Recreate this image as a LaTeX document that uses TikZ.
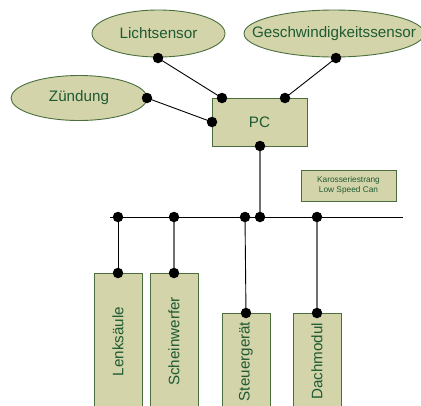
\documentclass[tikz,border=0pt]{standalone}
\usepackage{fontspec}
\setmainfont{Liberation Sans}
\usetikzlibrary{shapes.geometric}
\definecolor{boxfill}{HTML}{D4D4AA}
\definecolor{boxedge}{HTML}{4B6E3E}
\definecolor{boxtext}{HTML}{1E5A32}
\definecolor{wiregray}{HTML}{707070}
\begin{document}
\begin{tikzpicture}[x=1pt,y=-1pt,
  unit/.style={draw=boxedge,fill=boxfill,text=boxtext,line width=0.9pt,inner sep=0pt,font=\fontsize{15.2}{18}\selectfont},
  sensor/.style={unit,ellipse,label={[text=boxtext,font=\fontsize{15.2}{18}\selectfont]center:#1}},
  module/.style={unit,rectangle,rotate=90,minimum height=48pt},
  note/.style={unit,rectangle,font=\fontsize{8.3}{10.7}\selectfont,align=center,minimum width=95pt,minimum height=31pt},
  wire/.style={line width=0.9pt,black},
  graywire/.style={line width=1.2pt,wiregray},
  dot/.style={circle,fill=black,inner sep=0pt,minimum size=10.5pt}]
\useasboundingbox (0,0) rectangle (421,405);
\clip (0,0) rectangle (421,405);

% sensors and central unit
\node[sensor=Lichtsensor,minimum width=133pt,minimum height=47pt] (licht) at (158.5,33.5) {};
\node[sensor=Geschwindigkeitssensor,minimum width=180pt,minimum height=47pt] (gesch) at (334,33.5) {};
\node[sensor=Zündung,minimum width=136pt,minimum height=45pt] (zuend) at (79,98) {};
\node[unit,rectangle,minimum width=95pt,minimum height=48pt] (pc) at (259.5,122) {PC};
\node[note] (kar) at (348.5,185.5) {Karosseriestrang\\Low Speed Can};

% modules on the bus
\node[module,minimum width=137pt] (lenk) at (118,341.5) {Lenksäule};
\node[module,minimum width=137pt] (schein) at (174,341.5) {Scheinwerfer};
\node[module,minimum width=97pt] (steuer) at (246,361.5) {Steuergerät};
\node[module,minimum width=97pt] (dach) at (317,361.5) {Dachmodul};

% connection points
\coordinate (pLicht) at (158,58);
\coordinate (pGesch) at (336,58);
\coordinate (pZuend) at (147,98);
\coordinate (pcA) at (222,98);
\coordinate (pcB) at (285,98);
\coordinate (pcL) at (212,122);
\coordinate (pcS) at (260,146);
\coordinate (busL) at (110,217);
\coordinate (busR) at (403,217);
\coordinate (tLenk) at (118,217);
\coordinate (tSchein) at (174,217);
\coordinate (tSteuer) at (245,217);
\coordinate (tPC) at (260,217);
\coordinate (tDach) at (317,217);
\coordinate (mLenk) at (118,273);
\coordinate (mSchein) at (174,273);
\coordinate (mSteuer) at (246,313);
\coordinate (mDach) at (317,313);

% wiring
\draw[wire] (pLicht) -- (pcA);
\draw[wire] (pGesch) -- (pcB);
\draw[wire] (pZuend) -- (pcL);
\draw[graywire] (pcS) -- (tPC);
\draw[wire] (busL) -- (busR);
\draw[wire] (tLenk) -- (mLenk);
\draw[graywire] (tSchein) -- (mSchein);
\draw[wire] (tSteuer) -- (mSteuer);
\draw[graywire] (tDach) -- (mDach);

% junction dots
\foreach \p in {pLicht,pGesch,pZuend,pcA,pcB,pcL,pcS,tLenk,tSchein,tSteuer,tPC,tDach,mLenk,mSchein,mSteuer,mDach}
  \node[dot] at (\p) {};
\end{tikzpicture}
\end{document}
